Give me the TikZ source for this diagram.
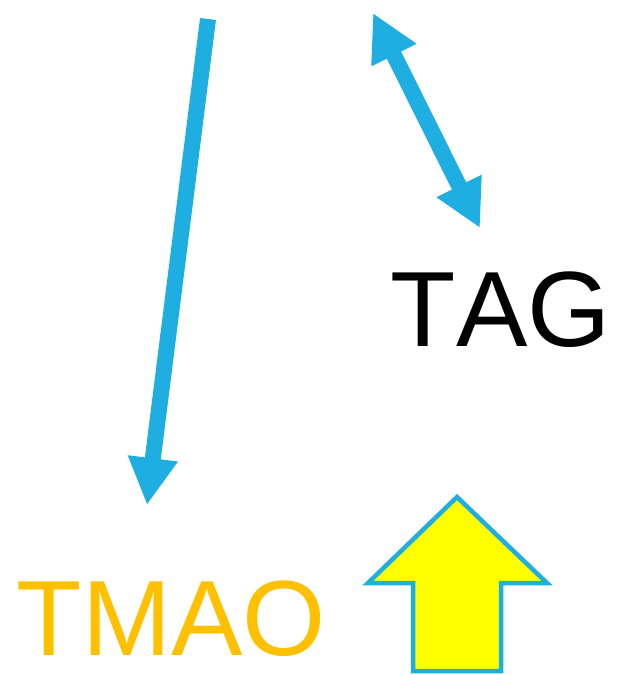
\documentclass[tikz,border=0pt]{standalone}
\usepackage{fontspec}
\setmainfont[Kerning=Off]{Liberation Sans}
\usetikzlibrary{arrows.meta}
\definecolor{arrowblue}{RGB}{30,174,226}
\definecolor{tmaoorange}{RGB}{255,192,0}
\definecolor{blockyellow}{RGB}{255,255,0}
\tikzset{
  fatarrow/.style={draw=arrowblue, line width=16pt,
    -{Triangle[width=47pt,length=47pt]}},
  fatdouble/.style={draw=arrowblue, line width=16pt,
    {Triangle[width=47pt,length=47pt]}-{Triangle[width=47pt,length=47pt]}},
  bigword/.style={inner sep=0pt, anchor=base west, text depth=0pt,
    font=\fontsize{107}{112}\selectfont},
  blockarrow/.style={draw=arrowblue, line width=4.5pt, fill=blockyellow, line join=miter}
}
\begin{document}
\begin{tikzpicture}[x=1pt,y=-1pt]
  \useasboundingbox (0,0) rectangle (620,675);
  % labels
  \node[bigword, text=black] (tag) at (390.5,346) {TAG};
  \node[bigword, text=tmaoorange] (tmao) at (16.5,655) {TMAO};
  % arrow endpoints
  \coordinate (downstart) at (208,19);
  \coordinate (downend) at (147,505);
  \coordinate (dbltop) at (373,13);
  \coordinate (dblbot) at (480,228);
  % connectors
  \draw[fatarrow] (downstart) -- (downend);
  \draw[fatdouble] (dbltop) -- (dblbot);
  % upward block arrow
  \draw[blockarrow] (457,497) -- (547,583) -- (501,583) -- (501,671)
    -- (413,671) -- (413,583) -- (368,583) -- cycle;
\end{tikzpicture}
\end{document}
